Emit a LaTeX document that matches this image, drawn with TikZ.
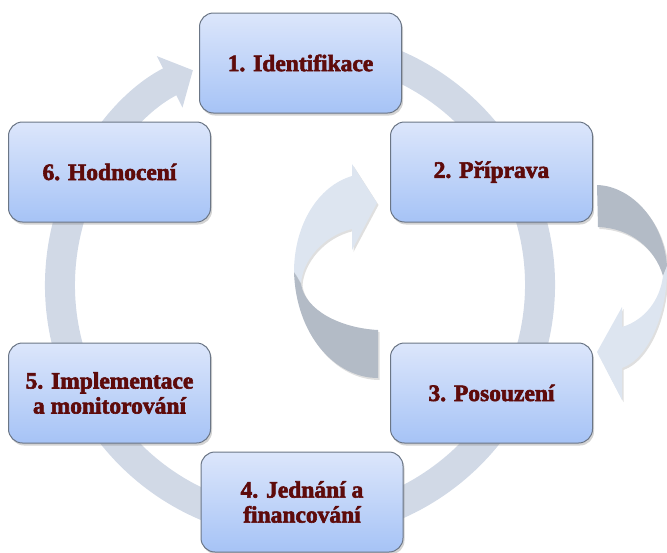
\documentclass[tikz,border=0pt]{standalone}
\usepackage{fontspec}
\setmainfont{Liberation Serif}
\newfontfamily\boxfont{Liberation Serif Bold}[FakeBold=2.5]
\usetikzlibrary{arrows.meta,shadows}

\definecolor{ringcol}{HTML}{D1D9E6}
\definecolor{lightrib}{HTML}{DDE5F0}
\definecolor{darkrib}{HTML}{B3BBC6}
\definecolor{boxtop}{HTML}{DCE6FB}
\definecolor{boxbot}{HTML}{A6C3F6}
\definecolor{boxline}{HTML}{6B7686}
\definecolor{txtred}{HTML}{5E0B0B}

\tikzset{
  stepbox/.style={draw=boxline, line width=1pt, rounded corners=14pt,
    minimum width=202pt, minimum height=100pt, top color=boxtop, bottom color=boxbot,
    drop shadow={shadow xshift=1.5pt, shadow yshift=-2.5pt, opacity=.35}},
  steptext/.style={text=txtred, align=center,
    font=\boxfont\fontsize{23.5}{25}\selectfont},
  ribbon/.style={drop shadow={shadow xshift=1.5pt, shadow yshift=-2pt, opacity=.25}}
}

\begin{document}
\begin{tikzpicture}[x=1pt,y=-1pt]
\useasboundingbox (0,0) rectangle (667,552);
\coordinate (ctr) at (300,285);
% big cycle arrow
\draw[ringcol, line width=30pt, -{Triangle[width=56pt,length=26pt]}]
  ([shift={(-80:240)}]ctr) arc[start angle=-80, end angle=243.5, radius=240];
% left inner arrow
\fill[lightrib, ribbon] (352,176) .. controls (318,186) and (294,225) .. (294,272)
  -- (301,284) .. controls (302,262) and (322,236) .. (352,229)
  -- (352,250) -- (377,203) -- (352,164) -- cycle;
\fill[darkrib, ribbon] (294,272) .. controls (296,335) and (335,378) .. (378,378)
  -- (378,330) .. controls (340,328) and (305,310) .. (301,284) -- cycle;
% right inner arrow
\fill[darkrib, ribbon] (597,185) .. controls (632,186) and (664,222) .. (667,266)
  -- (663,276) .. controls (655,248) and (630,228) .. (598,227) -- cycle;
\fill[lightrib, ribbon] (667,266) .. controls (668,310) and (650,358) .. (622,368)
  -- (622,400) -- (597,352) -- (622,307)
  -- (622,327) .. controls (645,320) and (660,300) .. (663,276) -- cycle;
% the six steps
\foreach \nm/\px/\py/\lbl in {ident/300.5/63/{1. Identifikace},
    prep/491.5/172/{2. Příprava},
    assess/491.5/393/{3. Posouzení},
    fund/302/502/{4. Jednání a\\financování},
    impl/109.5/393/{5. Implementace\\a monitorování},
    eval/109.5/172/{6. Hodnocení}}{
  \node[stepbox] (\nm) at (\px,\py) {};
  \node[steptext] (\nm-t) at (\nm.center) {\lbl};
}
\end{tikzpicture}
\end{document}
